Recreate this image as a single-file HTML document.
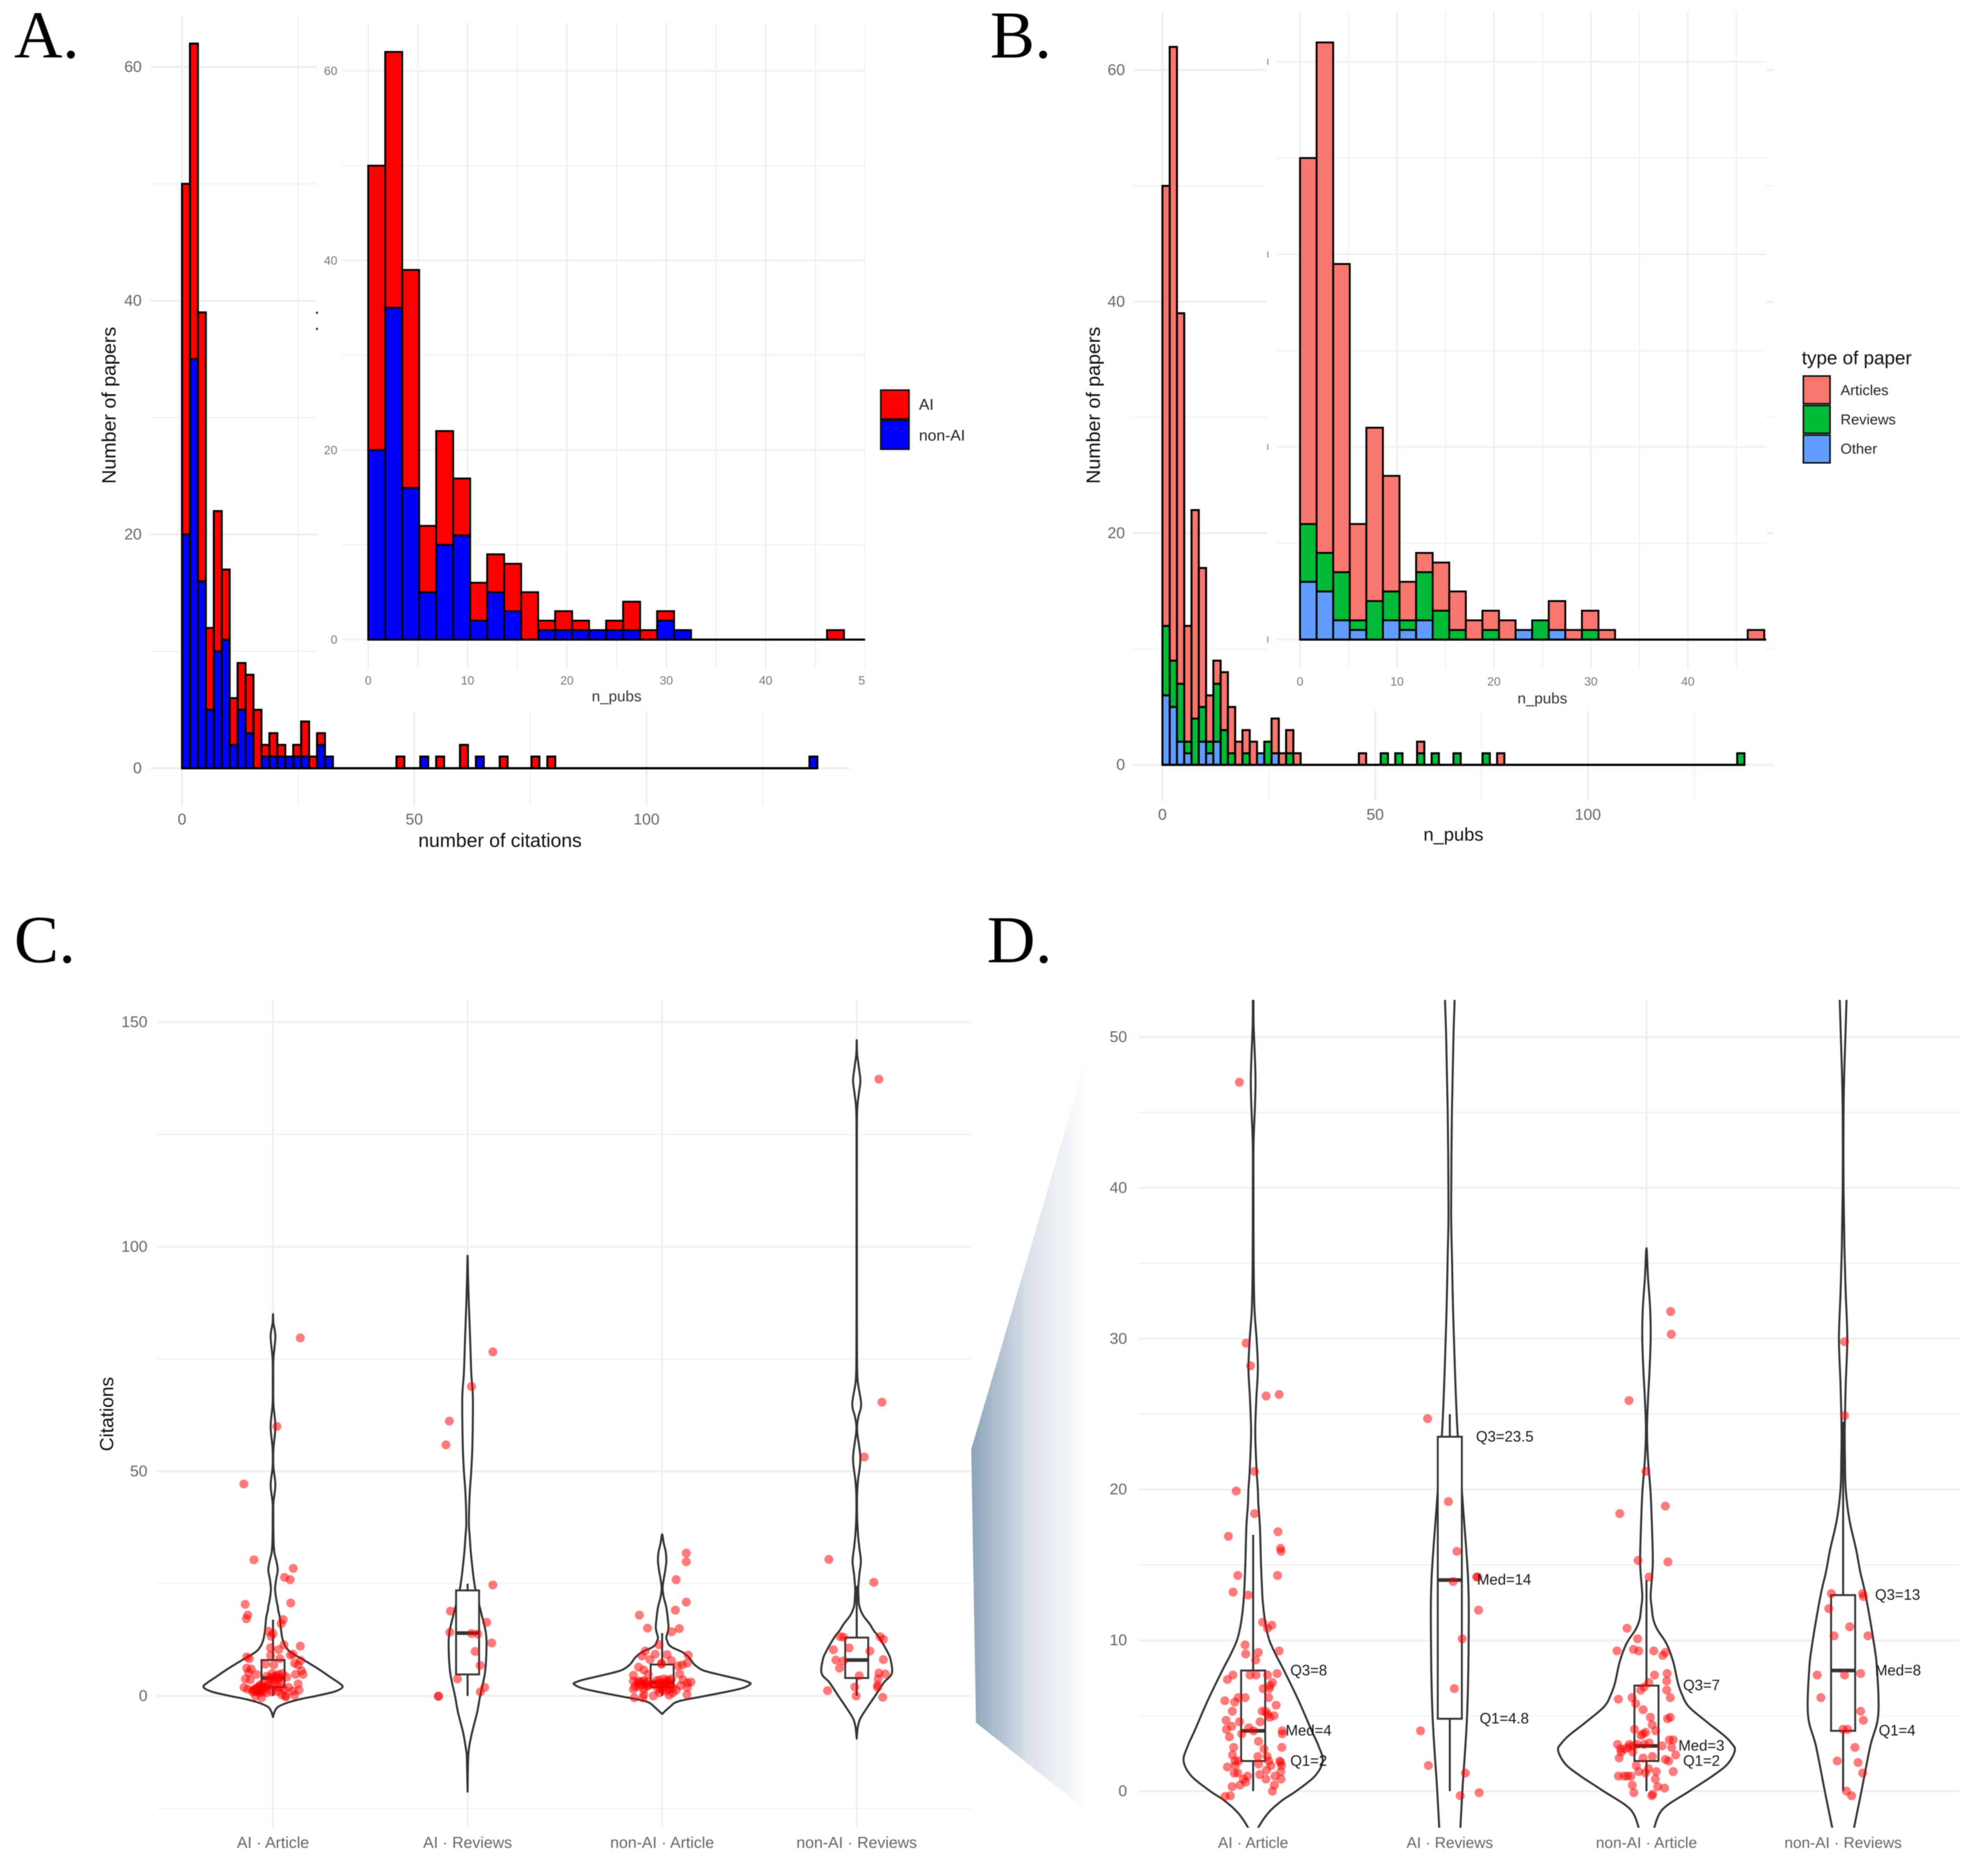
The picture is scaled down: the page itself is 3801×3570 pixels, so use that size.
<!DOCTYPE html>
<html lang="en">
<head>
<meta charset="utf-8">
<title>Citation histograms and violin plots</title>
<style>
html,body{margin:0;padding:0;background:#fff;width:3801px;height:3570px;overflow:hidden;}
svg{display:block;font-family:"Liberation Sans",sans-serif;filter:blur(0.9px);}
</style>
</head>
<body>
<svg id="figure" xmlns="http://www.w3.org/2000/svg" width="3801" height="3570" viewBox="0 0 3801 3570">
  <defs>
    <linearGradient id="zoomFade" gradientUnits="userSpaceOnUse" x1="1857" y1="0" x2="2086" y2="0">
      <stop offset="0" stop-color="#8aa3ba"/>
      <stop offset="0.5" stop-color="#dde3ea"/>
      <stop offset="1" stop-color="#ffffff"/>
    </linearGradient>
    <clipPath id="clipInsetA"><rect x="606" y="0" width="1048" height="1360"/></clipPath>
    <clipPath id="clipInsetB"><rect x="2421" y="0" width="956" height="1360"/></clipPath>
    <clipPath id="clipD"><rect x="2100" y="1912" width="1660" height="1583"/></clipPath>
  </defs>
  <rect width="3801" height="3570" fill="#fff"/>
  <polygon points="1857,2771 2086,1994 2086,3468 1866,3294" fill="url(#zoomFade)"/>
  <g id="panelA"></g>
  <g id="panelB"></g>
  <g id="panelC"></g>
  <g id="panelD"></g>
  <g font-family="'Liberation Serif',serif" font-size="128" fill="#000">
    <text x="27" y="110">A.</text>
    <text x="1893" y="110">B.</text>
    <text x="27" y="1840">C.</text>
    <text x="1887" y="1840">D.</text>
  </g>
</svg>
<script>
// ---------- histogram data ----------
const binWidth = 1.71;
const histBins      = [0,1,2,3,4,5,6,7,8,9,10,11,12,13,14,15,16,17,18,27,30,32,35,37,40,44,46,79];
const nonAiCounts   = [20,35,16,5,10,11,2,5,3,0,1,1,1,1,1,1,0,2,1,0,1,0,0,1,0,0,0,1];
const aiCounts      = [30,27,23,7,12,6,4,4,5,5,1,2,1,0,1,3,1,1,0,1,0,1,2,0,1,1,1,0];
const otherCounts   = [6,5,2,1,0,2,1,2,0,0,0,0,0,1,0,1,0,0,0,0,0,0,0,0,0,0,0,0];
const reviewCounts  = [6,4,5,1,4,3,1,5,3,1,0,1,0,0,2,0,0,1,0,0,1,1,1,1,1,1,0,1];
const articleCounts = [38,53,32,10,18,12,4,2,5,4,2,2,2,0,0,3,1,2,1,1,0,0,1,0,0,0,1,0];
const mainXTicks = [0,50,100];
const mainXMinor = [25,75,125];
const mainYTicks = [0,20,40,60];
const mainYMinor = [10,30,50];
const insetXTicks = [0,10,20,30,40,50];
const insetXMinor = [5,15,25,35,45];

// ---------- violin data (value positions and half-width density) ----------
const categories = ["AI · Article","AI · Reviews","non-AI · Article","non-AI · Reviews"];
const v1Values = [-4.7,-3.5,-2.4,-1.4,-0.6,0,1,2,3,4,6,8,9,10,11,12,13,15,17.5,19,20,21,22.5,24,26,28,30,32,35,40,43,47,51,55,60,65,70,75,80,83,85];
const v1Density = [0,3,10,30,56,82,118,133,125,112,87,59,44,31,24,20,17.5,15,13,10,9,7,5,4,6,9,6.5,2.5,1,.6,.8,4.5,.8,.8,4.5,.8,.5,.8,4.5,.8,0];
const v2Values = [-21.3,-13,-8.4,-3.8,0,5,10,14,19,24.3,31,35.6,38.6,45,50,55,61,67,72,79,87,93,98];
const v2Density = [0,1.5,8,18,24,33,36,35,25,14,7,4,2.5,4,7,9,10,10,7,5,2.5,1,0];
const v3Values = [-4,-2.5,-1.2,0,1,1.8,2.7,3.2,3.7,4.6,5.6,6.4,7.2,8.6,9.8,10.7,11.4,12.2,13,15,17,19.7,22,24,26,28,30,32,34,36];
const v3Density = [0,14,31,82,126,155,169,162,148,115,81,68,60,51,38,21,13,10,8,12,11,8,3,1,3,6,8,7,3,0];
const v4Values = [-9.5,-7,-5,-2.4,0,3,5,8,10,13,14.5,16,18,20,22,24,27,30,33,36,40,45,48,53,59,62,65,70,75,85,100,120,130,134,137,140,143,146];
const v4Density = [0,2,7,21,35,52,67,65,58,43,33,25,12,5,3.5,3,5,8,5,2.5,.8,.8,2.5,7,.8,3,8.5,2,.6,.4,.4,.4,.8,4,7,4,.8,0];

// ---------- box statistics: [whisker low, Q1, median, Q3, whisker high] ----------
const boxStats = [[0,2,4,8,17],[0,4.8,14,23.5,25],[0,2,3,7,14],[0,4,8,13,24.5]];
const q3Labels = ["Q3=8","Q3=23.5","Q3=7","Q3=13"];
const medLabels = ["Med=4","Med=14","Med=3","Med=8"];
const q1Labels = ["Q1=2","Q1=4.8","Q1=2","Q1=4"];

// ---------- panel C points (citations, jitter in % of category step) ----------
const cC1 = [79.7,60,47.2,30.3,28.4,26.4,25.9,20.7,20.4,18,17.2,17,16.1,14.4,13.9,13.3,11.1,11.4,10.7,10.3,9.3,9.1,8.7,8.3,9,8.3,7.9,7.1,6.9,7.3,6.9,6.2,6,5.6,5.2,4.8,4.8,4.8,3.8,3.6,5,4.4,4.8,5,4.2,1.9,1.5,2.7,1.5,1.9,2.5,1.5,1.9,2.7,2.3,1.9,1.9,1.5,1.9,1.1,1.3,.7,0,-.4,.7,.9,.3,-.2,0,.2,1.1,1.3,3.6,3.3,3.6,4,2.7,.9,1.5,1.2,1.8,1,2.1,1.4,.9,1.7,2.2,3.8,4.3,4.5,3.9,4.1,1];
const jC1 = [14,2,-15,-9.8,10.4,5.9,8.8,9.1,-14.3,-13,-13.7,5.2,4.2,-2.3,0,-1,14,5.6,-1.3,2.9,10.2,8.9,-13.5,-12.2,-1.3,3.5,14.2,-3.9,.4,11.1,12.9,-13.5,-11.2,14.7,-12.5,-8.6,11.6,15.4,-14.2,-11.7,-.5,-3.2,3,4.8,7.1,-14.9,-13.1,12.9,-9.5,-8.2,-6.5,-5.9,-4.1,-2.3,-.5,1.3,3.5,5.7,8,10.2,13.4,-6.5,-9,-5.9,-3.2,-.5,4.4,6.5,6.5,11.1,-7.7,-10.4,2.2,3.9,.4,-1.4,-5,-10.4,-8,-7,-6.5,-5,-7.2,-9,-8.3,-4.5,-3,-1,.5,1.5,2.5,3.5,2.5];
const cC2 = [76.6,68.9,61.2,55.9,24.7,18.9,16.4,14.2,13.9,13.8,11.8,9.9,6.8,3.8,1.9,.9,-.1,0];
const jC2 = [13,2,-9.4,-11.1,13,-8.8,9.8,-9.1,2,5.2,12.4,3.9,6.5,-5.2,8.8,6.5,-15,-15];
const cC3 = [31.8,29.9,25.9,20.9,19.1,18,15,15.1,14.3,11.4,10,8.9,9.3,9.2,8.1,7.9,9.1,7.3,7.1,6.7,6.9,7.3,6.4,5.8,4.6,4.9,4.8,3.3,3.3,3.4,3.1,3.6,3.1,2.9,3.4,3.6,3.8,3.6,3.8,2.7,2.5,2.7,2.5,1.5,1.5,1.5,1.5,1.3,2.3,1.9,2.1,2.1,.3,0,.7,.2,.3,-.4,-.4,1.1,.7,2.3,2.5,1.5,1.9,3,3.2,2.6,2.8,2.2,2.9,3,2.6,3.2,2,1.8];
const jC3 = [12.4,12.4,7.2,12.4,6.8,-11.7,8.8,-7.5,4.9,-1.6,-8.7,-10.3,-3.6,2.5,-6.3,4.7,13.4,-.3,-.3,8.1,10.3,12.8,-12.1,-9.4,-14.8,9,-7.2,-14.8,-12.1,-9.4,-7.6,10.8,14.8,13,-3.1,-1.3,.9,3.1,4.9,-4,-1.3,1.3,4,-14.8,-9.4,-2.2,.4,7.2,9.4,13,-13.9,-11.6,-9.4,-4.5,-1.3,3.6,12.8,-14.3,-9.9,2.2,5.4,-7.2,-4.9,3.6,5.4,-12.5,-10.5,-11,-8.5,-8,-1,1.5,2.8,3,.5,-1];
const cC4 = [137.3,65.4,53.2,30.4,25.3,13.2,13.1,13.2,12.6,10.3,10.7,10,8,7.8,8.1,6.2,5.1,4.9,4.5,3.8,2.4,2,1.2,1.9,0,-.3];
const jC4 = [11.4,13,3.9,-14.3,8.8,-8.5,-6.8,12,13.7,-12,-3.9,6.8,-10.7,-6.8,13.7,-8.8,11.4,14.7,1.3,11,10.7,-1,-15,10.7,-.3,13.4];

// ---------- panel D points ----------
const cD1 = [47,29.7,28.2,26.2,26.3,21.2,19.9,18.4,17.2,16.9,16.1,15.9,14.3,14.3,13.2,13,11.2,11,10.8,9.7,9.1,9.2,9.3,8.7,7.7,7.4,7.7,7.7,7.7,7.8,7.2,7,6.8,6.8,6.2,6.2,5.9,6,6.2,5.7,5.3,5.3,5.3,5.1,5,4.9,4.7,4.6,4.6,4.3,4.2,4.1,4,4,3.8,3.8,3.6,3.3,2.9,2.9,2.8,2.4,2.3,2.3,2,2,2,1.9,1.8,2,1.6,1.7,1.7,1.7,1.2,1.2,1,1.4,1.3,1.1,.8,.6,.8,1,.8,.4,.3,.4,0,-.3,-.35];
const jD1 = [-7,-3.6,-1.3,6.6,13.2,.7,-8.6,.7,12.6,-12.6,13.9,14.2,-7.8,12.4,-10.2,-2.5,4.8,9.5,7.3,-4.1,-3.8,2.6,13.2,1.3,-10.3,-13.1,-1.6,1.5,7.3,12.2,9.8,8.6,5.1,8.2,-7.6,-4.1,-9.4,-14.4,7.9,11.7,-10.6,4.6,6.4,7.3,10.6,8.4,-13.8,-6.9,3.5,-10.9,-2.2,-13.6,.2,14.8,-5.8,14.8,-12.1,2.7,14.6,-9.9,5.5,-10.5,2.4,7.1,-7.4,-9.3,13.5,14,2.8,7.9,-13.1,-9.1,9,14.4,-7.8,-9.6,-2.9,6.8,14.1,3.3,-5,-3.8,6.5,11.1,14.2,-6.7,-10.7,10.8,9.8,-11.6,-14.3];
const cD2 = [24.7,19.2,15.9,14.2,14.2,13.9,12,10.1,6.8,4,1.7,1.2,-.3,-.1];
const jD2 = [-11.3,-.7,3.6,13.6,14.2,1.7,14.6,6.3,2.3,-14.9,-10.9,7.9,5.3,14.9];
const cD3 = [31.8,30.3,25.9,21.2,18.9,18.4,15.2,15.3,14.2,10.8,10.1,9.3,9.4,9.3,9.3,9.2,9,7.7,7.8,7.3,6.7,6.2,7.2,6.9,6.7,6.2,6.1,5.8,5.4,4.9,4.9,4.8,4.4,4.1,4,3.9,3.8,3.7,3.1,3.1,3.1,3.2,3.1,3.4,3.4,3,2.9,3,2.9,2.8,2.8,2.6,2.6,2.2,2.2,2.3,2.4,2.1,2,1.7,1.5,1.3,1.3,1.3,1.2,1,1,1,1,.8,.4,.3,.2,-.1,-.2,-.3];
const jD3 = [12.3,12.6,-8.9,-.3,9.6,-13.6,10.9,-4.3,1.3,-9.9,-4.5,-15,-6.6,-3.9,3.7,9.6,8.3,4.1,10.5,10.3,10.3,12.1,1.2,-1.2,-3,-7.3,-14.3,-5.5,-1.7,2,12.1,10.7,2.9,-6.1,4.7,-.4,-1.7,-2.8,-8.8,-14.7,-4.8,1.4,-1.2,11.6,13.6,7.9,12.8,-7,-9.2,-11,-13.2,-12.8,-7,-13.9,-1.7,3,14.9,9.6,11.3,-5.2,1,13.6,-3.9,5,-.4,-14.3,-11.4,-9.7,-7.9,4.5,-7.2,5.7,9.2,-6.4,3.2,2.7];
const cD4 = [29.8,24.9,13.1,13.1,12.9,12.1,10.9,10.3,10.3,7.7,7.7,7.8,6.2,5.3,4.7,4.1,4.1,2.9,2,1.9,1.2,0,-.3];
const jD4 = [.7,.7,-6,9.9,10.3,-7.3,3.3,-4.6,12.6,-13.2,.7,8.9,-11.3,8.9,10.3,0,2.3,6,-3,7.6,9.9,1.7,4.3];

// ---------- helpers ----------
const NS = "http://www.w3.org/2000/svg";
function mk(tag, attrs, parent, text) {
  const el = document.createElementNS(NS, tag);
  for (const k in attrs) el.setAttribute(k, attrs[k]);
  if (text !== undefined) el.textContent = text;
  parent.appendChild(el);
  return el;
}
function linear(d0, r0, d1, r1) { return v => r0 + (v - d0) * (r1 - r0) / (d1 - d0); }
const GRID = "#eeeeee";
const TICK = "#666666";

function gridLines(g, xs, ys, xScale, yScale, x0, x1, y0, y1, w) {
  ys.forEach(v => {
    const el = mk("line", {x1:x0, x2:x1, y1:yScale(v), y2:yScale(v), stroke:GRID, "stroke-width":w}, g);
    
    
  });
  xs.forEach(v => {
    const el = mk("line", {x1:xScale(v), x2:xScale(v), y1:y0, y2:y1, stroke:GRID, "stroke-width":w}, g);
    
    
  });
}
function tickLabelsX(g, ticks, xScale, y, size, color) {
  ticks.forEach(v => {
    const el = mk("text", {x:xScale(v), y:y, "text-anchor":"middle", "dominant-baseline":"central", "font-size":size, fill:color}, g, String(v));
    
    
  });
}
function tickLabelsY(g, ticks, yScale, x, size, color) {
  ticks.forEach(v => {
    const el = mk("text", {x:x, y:yScale(v), "text-anchor":"end", "dominant-baseline":"central", "font-size":size, fill:color}, g, String(v));
    
    
  });
}
function drawStacks(g, xScale, yScale, layers, colors, sw) {
  histBins.forEach((bin, i) => {
    let base = 0;
    layers.forEach((layer, k) => {
      const n = layer[i];
      if (n > 0) {
        const x0 = xScale(bin * binWidth), x1 = xScale((bin + 1) * binWidth);
        const el = mk("rect", {x:x0, y:yScale(base + n), width:x1 - x0, height:yScale(base) - yScale(base + n), fill:colors[k], stroke:"#000", "stroke-width":sw}, g);
        
        
      }
      base += n;
    });
  });
  const last = histBins[histBins.length - 1] + 1;
  const line = mk("line", {x1:xScale(0), x2:xScale(last * binWidth), y1:yScale(0), y2:yScale(0), stroke:"#000", "stroke-width":sw + 0.5}, g);
  
  
}
function label(g, name, x, y, size, fill, text, rotate, anchor) {
  const attrs = {x:x, y:y, "font-size":size, fill:fill, "text-anchor":anchor || "middle", "dominant-baseline":"central"};
  if (rotate) attrs.transform = "rotate(-90 " + x + " " + y + ")";
  const el = mk("text", attrs, g, text);
  
  
  return el;
}

// ---------- Panel A ----------
(function () {
  const g = document.getElementById("panelA");
  const x = linear(0, 348, 100, 1236), y = linear(0, 1469, 60, 128);
  gridLines(g, mainXMinor, mainYMinor, x, y, 288, 1624, 30, 1540, 2);
  gridLines(g, mainXTicks, mainYTicks, x, y, 288, 1624, 30, 1540, 4);
  drawStacks(g, x, y, [nonAiCounts, aiCounts], ["#0000ff", "#ff0000"], 3.8);
  const cover = mk("rect", {x:606, y:0, width:1070, height:1360, fill:"#fff"}, g);
  
  
  [598, 629].forEach(py => {
    const t = mk("rect", {x:604, y:py - 2, width:4, height:4, fill:"#333"}, g);
    
    
  });
  const inset = mk("g", {"clip-path":"url(#clipInsetA)"}, g);
  
  
  const ix = linear(0, 704, 10, 894), iy = linear(0, 1223, 60, 135.5);
  gridLines(inset, insetXMinor, mainYMinor, ix, iy, 654, 1654, 43, 1279, 2);
  gridLines(inset, insetXTicks, mainYTicks, ix, iy, 654, 1654, 43, 1279, 3);
  drawStacks(inset, ix, iy, [nonAiCounts, aiCounts], ["#0000ff", "#ff0000"], 3.5);
  const base = mk("line", {x1:704, x2:1654, y1:iy(0), y2:iy(0), stroke:"#000", "stroke-width":4}, inset);
  
  
  tickLabelsX(inset, insetXTicks, ix, 1301, 23, "#777");
  tickLabelsY(inset, mainYTicks, iy, 645, 23, "#777");
  label(inset, "inset-x-axis-title", 1179, 1332, 29, "#333", "n_pubs");
  tickLabelsX(g, mainXTicks, x, 1567, 30, TICK);
  tickLabelsY(g, mainYTicks, y, 271, 30, TICK);
  label(g, "x-axis-title", 956, 1607, 37, "#111", "number of citations");
  label(g, "y-axis-title", 208, 775, 37.5, "#111", "Number of papers", true);
  const legendNames = ["AI", "non-AI"], legendColors = ["#ff0000", "#0000ff"];
  legendNames.forEach((n, i) => {
    const r = mk("rect", {x:1684, y:746 + i * 58, width:54, height:55, fill:legendColors[i], stroke:"#111", "stroke-width":3}, g);
    
    
    label(g, "legend-entry", 1757, 774 + i * 59, 30, "#222", n, false, "start");
  });
})();

// ---------- Panel B ----------
(function () {
  const g = document.getElementById("panelB");
  const colors = ["#619cff", "#00ba38", "#f8766d"];
  const layers = [otherCounts, reviewCounts, articleCounts];
  const x = linear(0, 2222.5, 100, 3036), y = linear(0, 1462.5, 60, 134);
  gridLines(g, mainXMinor, mainYMinor, x, y, 2167, 3391, 22, 1531, 2);
  gridLines(g, mainXTicks, mainYTicks, x, y, 2167, 3391, 22, 1531, 4);
  drawStacks(g, x, y, layers, colors, 3.8);
  const cover = mk("rect", {x:2421, y:0, width:956, height:1360, fill:"#fff"}, g);
  
  
  const inset = mk("g", {"clip-path":"url(#clipInsetB)"}, g);
  
  
  const ix = linear(0, 2485.6, 10, 2671), iy = linear(0, 1223, 60, 118);
  gridLines(inset, insetXMinor, mainYMinor, ix, iy, 2440, 3377, 22, 1279, 2);
  gridLines(inset, insetXTicks, mainYTicks, ix, iy, 2440, 3377, 22, 1279, 3);
  drawStacks(inset, ix, iy, layers, colors, 3.5);
  const base = mk("line", {x1:2485.6, x2:3377, y1:iy(0), y2:iy(0), stroke:"#000", "stroke-width":4}, inset);
  
  
  mainYTicks.forEach(v => {
    const t = mk("rect", {x:2423, y:iy(v) - 6, width:2, height:12, fill:"#888"}, inset);
    
    
  });
  tickLabelsX(inset, [0,10,20,30,40], ix, 1303, 23, "#777");
  label(inset, "inset-x-axis-title", 2949, 1336, 29, "#333", "n_pubs");
  tickLabelsX(g, mainXTicks, x, 1558, 30, TICK);
  tickLabelsY(g, mainYTicks, y, 2151, 30, TICK);
  label(g, "x-axis-title", 2779, 1596, 35, "#111", "n_pubs");
  label(g, "y-axis-title", 2090, 775, 37.5, "#111", "Number of papers", true);
  label(g, "legend-title", 3445, 684, 36, "#111", "type of paper", false, "start");
  const legendNames = ["Articles", "Reviews", "Other"], legendColors = ["#f8766d", "#00ba38", "#619cff"];
  legendNames.forEach((n, i) => {
    const r = mk("rect", {x:3448, y:719 + i * 56.5, width:51, height:53, fill:legendColors[i], stroke:"#111", "stroke-width":3}, g);
    
    
    label(g, "legend-entry", 3519, 746 + i * 56, 28, "#222", n, false, "start");
  });
})();

// ---------- Violin machinery ----------
function smoothPath(pts) {
  let d = "M" + pts[0][0].toFixed(1) + " " + pts[0][1].toFixed(1);
  for (let i = 0; i < pts.length - 1; i++) {
    const p0 = pts[Math.max(i - 1, 0)], p1 = pts[i], p2 = pts[i + 1], p3 = pts[Math.min(i + 2, pts.length - 1)];
    const c1x = p1[0] + (p2[0] - p0[0]) / 6, c1y = p1[1] + (p2[1] - p0[1]) / 6;
    const c2x = p2[0] - (p3[0] - p1[0]) / 6, c2y = p2[1] - (p3[1] - p1[1]) / 6;
    d += "C" + c1x.toFixed(1) + " " + c1y.toFixed(1) + " " + c2x.toFixed(1) + " " + c2y.toFixed(1) + " " + p2[0].toFixed(1) + " " + p2[1].toFixed(1);
  }
  return d + "Z";
}
// Crop a violin profile to a visible value range, interpolating density at the cut.
function cropProfile(vals, dens, lo, hi) {
  const at = t => {
    for (let k = 0; k < vals.length - 1; k++) {
      if (t >= vals[k] && t <= vals[k + 1]) {
        return dens[k] + (dens[k + 1] - dens[k]) * (t - vals[k]) / (vals[k + 1] - vals[k]);
      }
    }
    return 0;
  };
  const out = [];
  if (lo > vals[0]) out.push([lo, at(lo)]);
  vals.forEach((v, k) => { if (v >= lo && v <= hi) out.push([v, dens[k]]); });
  if (hi < vals[vals.length - 1]) out.push([hi, at(hi)]);
  return out;
}
function drawViolins(g, xCat, y, step, pointVals, pointJit, boxHalf, lo, hi) {
  const vVals = [v1Values, v2Values, v3Values, v4Values];
  const vDens = [v1Density, v2Density, v3Density, v4Density];
  categories.forEach((c, i) => {
    const cx = xCat(i);
    const prof = cropProfile(vVals[i], vDens[i], lo, hi);
    const right = prof.map(p => [cx + p[1], y(p[0])]);
    const left = prof.filter(p => p[1] > 0).map(p => [cx - p[1], y(p[0])]).reverse();
    const violin = mk("path", {d:smoothPath(right.concat(left)), fill:"#fff", stroke:"#333", "stroke-width":3.8, "stroke-linejoin":"round"}, g);
    
    
    const s = boxStats[i];
    const whisker = mk("line", {x1:cx, x2:cx, y1:y(s[0]), y2:y(s[4]), stroke:"#333", "stroke-width":3.8}, g);
    
    
    const box = mk("rect", {x:cx - boxHalf, y:y(s[3]), width:boxHalf * 2, height:y(s[1]) - y(s[3]), fill:"#fff", stroke:"#333", "stroke-width":3.6}, g);
    
    
    const med = mk("line", {x1:cx - boxHalf, x2:cx + boxHalf, y1:y(s[2]), y2:y(s[2]), stroke:"#333", "stroke-width":7}, g);
    
    
  });
  categories.forEach((c, i) => {
    pointVals[i].forEach((v, k) => {
      const p = mk("circle", {cx:xCat(i) + pointJit[i][k] * step / 100, cy:y(v), r:8.6, fill:"#ff0000", "fill-opacity":0.52}, g);
      
      
    });
  });
}

// ---------- Panel C ----------
(function () {
  const g = document.getElementById("panelC");
  const step = 372, xCat = i => 522 + i * step;
  const y = linear(0, 3243, 100, 2384);
  gridLines(g, [], [-25,25,75,125], xCat, y, 300, 1857, 1912, 3495, 2);
  gridLines(g, [0,1,2,3], [0,50,100,150], xCat, y, 300, 1857, 1912, 3495, 3.5);
  drawViolins(g, xCat, y, step, [cC1, cC2, cC3, cC4], [jC1, jC2, jC3, jC4], 22, -Infinity, Infinity);
  tickLabelsY(g, [0,50,100,150], y, 282, 30, TICK);
  categories.forEach((c, i) => {
    label(g, "x-tick-label", xCat(i), 3524, 30.3, TICK, c);
  });
  label(g, "y-axis-title", 204, 2704, 36.5, "#111", "Citations", true);
})();

// ---------- Panel D ----------
(function () {
  const g = document.getElementById("panelD");
  const step = 376, xCat = i => 2396 + i * step;
  const y = linear(0, 3425, 50, 1983);
  gridLines(g, [], [5,15,25,35,45], xCat, y, 2176, 3747, 1912, 3495, 2);
  gridLines(g, [0,1,2,3], [0,10,20,30,40,50], xCat, y, 2176, 3747, 1912, 3495, 3.5);
  const clip = mk("g", {"clip-path":"url(#clipD)"}, g);
  
  
  drawViolins(clip, xCat, y, step, [cD1, cD2, cD3, cD4], [jD1, jD2, jD3, jD4], 23, -2.8, 54);
  const q3Off = [71, 50, 70, 61], medOff = [62, 52, 61, 61], q1Off = [71, 57, 70, 68];
  categories.forEach((c, i) => {
    const s = boxStats[i];
    label(g, "q3-label", xCat(i) + q3Off[i], y(s[3]), 28.5, "#1a1a1a", q3Labels[i], false, "start");
    label(g, "median-label", xCat(i) + medOff[i], y(s[2]), 28.5, "#1a1a1a", medLabels[i], false, "start");
    label(g, "q1-label", xCat(i) + q1Off[i], y(s[1]), 28.5, "#1a1a1a", q1Labels[i], false, "start");
    label(g, "x-tick-label", xCat(i), 3524, 29.5, TICK, c);
  });
  tickLabelsY(g, [0,10,20,30,40,50], y, 2155, 30, TICK);
})();
</script>
</body>
</html>
